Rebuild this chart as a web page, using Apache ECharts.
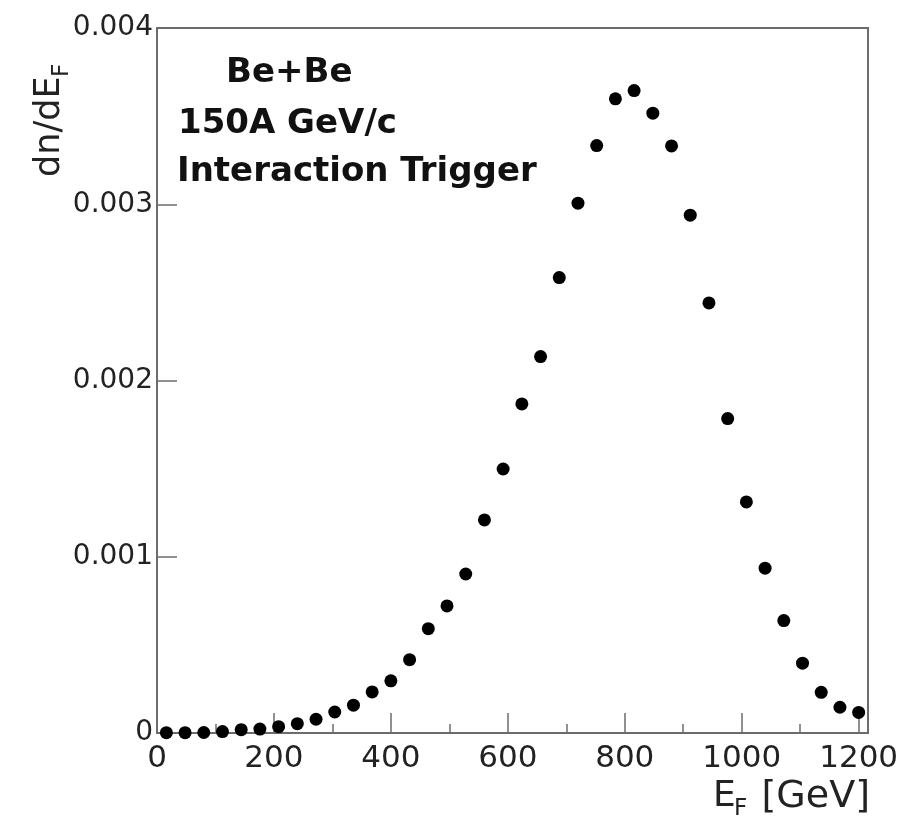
<!DOCTYPE html>
<html>
<head>
<meta charset="utf-8">
<script src="https://cdn.jsdelivr.net/npm/echarts@6/dist/echarts.min.js"></script>
<style>
html,body{margin:0;padding:0;background:#fff;}
#chart{width:903px;height:825px;}
</style>
</head>
<body>
<div id="chart"></div>
<script>
// Bin centres of E_F [GeV]
const xValues = [16,48,80,112,144,176,208,240,272,304,336,368,400,432,464,496,528,560,592,624,656,688,720,752,784,816,848,880,912,944,976,1008,1040,1072,1104,1136,1168,1200];
// dn/dE_F
const yValues = [0.000002,0.000002,0.000003,0.000008,0.000019,0.000022,0.000036,0.000053,0.000078,0.000119,
                 0.000158,0.000233,0.000296,0.000416,0.000592,0.000721,0.000902,0.001209,0.001498,0.001867,
                 0.002136,0.002584,0.003006,0.003333,0.003598,0.003645,0.003517,0.003331,0.002938,0.002440,
                 0.001784,0.001311,0.000935,0.000638,0.000396,0.000231,0.000146,0.000117];
const xTickLabels = ['0','200','400','600','800','1000','1200'];
const yTickLabels = ['0','0.001','0.002','0.003','0.004'];
const annotationLines = ['Be+Be','150A GeV/c','Interaction Trigger'];

const points = xValues.map((x, i) => [x, yValues[i]]);
const axisCol = '#6c6c6c';
const txtCol = '#222';
const FONT = 'DejaVu Sans';

const chart = echarts.init(document.getElementById('chart'), null, {renderer: 'canvas'});
chart.setOption({
  animation: false,
  backgroundColor: '#fff',
  grid: {left: 157, right: 35, top: 28, bottom: 92, show: true, borderColor: axisCol, borderWidth: 2, backgroundColor: 'transparent'},
  xAxis: [{
    type: 'value', min: 0, max: 1216, interval: 200,
    axisLine: {show: true, lineStyle: {color: axisCol, width: 2}},
    axisTick: {show: true, inside: true, length: 20, lineStyle: {color: axisCol, width: 1.5}},
    splitLine: {show: false},
    axisLabel: {
      show: true, margin: 10, fontFamily: FONT, fontSize: 31, color: txtCol,
      showMaxLabel: false,
      formatter: v => { const i = xTickLabels.indexOf(String(v)); return i >= 0 ? xTickLabels[i] : ''; }
    }
  }, {
    type: 'value', min: 0, max: 1216, interval: 100, position: 'bottom',
    axisLine: {show: false},
    axisTick: {show: true, inside: true, length: 9, lineStyle: {color: axisCol, width: 1.5}},
    axisLabel: {show: false},
    splitLine: {show: false}
  }],
  yAxis: {
    type: 'value', min: 0, max: 0.004, interval: 0.001,
    axisLine: {show: true, lineStyle: {color: axisCol, width: 2}},
    axisTick: {show: true, inside: true, length: 20, lineStyle: {color: axisCol, width: 1.5}},
    splitLine: {show: false},
    axisLabel: {
      show: true, margin: 4, fontFamily: FONT, fontSize: 28, color: txtCol, padding: [5,0,0,0],
      formatter: v => { const i = Math.round(v / 0.001); return yTickLabels[i] !== undefined ? yTickLabels[i] : ''; }
    }
  },
  series: [{
    type: 'scatter', xAxisIndex: 0, data: points,
    symbol: 'circle', symbolSize: 13,
    itemStyle: {color: '#000', opacity: 1}, z: 5
  }],
  graphic: [
    {type: 'text', left: 226, top: 56, style: {text: annotationLines[0], font: 'bold 34px "DejaVu Sans"', fill: '#111'}},
    {type: 'text', left: 178, top: 107, style: {text: annotationLines[1], font: 'bold 34px "DejaVu Sans"', fill: '#111'}},
    {type: 'text', left: 177, top: 155, style: {text: annotationLines[2], font: 'bold 34px "DejaVu Sans"', fill: '#111'}},
    // y axis title dn/dE_F (rotated)
    {type: 'text', x: 50, y: 177, rotation: Math.PI / 2,
     style: {text: 'dn/dE', font: '35px "DejaVu Sans"', fill: txtCol, align: 'left', verticalAlign: 'middle'}},
    {type: 'text', x: 62, y: 77, rotation: Math.PI / 2,
     style: {text: 'F', font: '23px "DejaVu Sans"', fill: txtCol, align: 'left', verticalAlign: 'middle'}},
    // x axis title E_F [GeV]
    {type: 'text', x: 713, y: 797, style: {text: 'E', font: '36px "DejaVu Sans"', fill: txtCol, align: 'left', verticalAlign: 'middle'}},
    {type: 'text', x: 734, y: 809, style: {text: 'F', font: '23px "DejaVu Sans"', fill: txtCol, align: 'left', verticalAlign: 'middle'}},
    {type: 'text', x: 870, y: 797, style: {text: '[GeV]', font: '38px "DejaVu Sans"', fill: txtCol, align: 'right', verticalAlign: 'middle'}}
  ]
});
</script>
</body>
</html>
